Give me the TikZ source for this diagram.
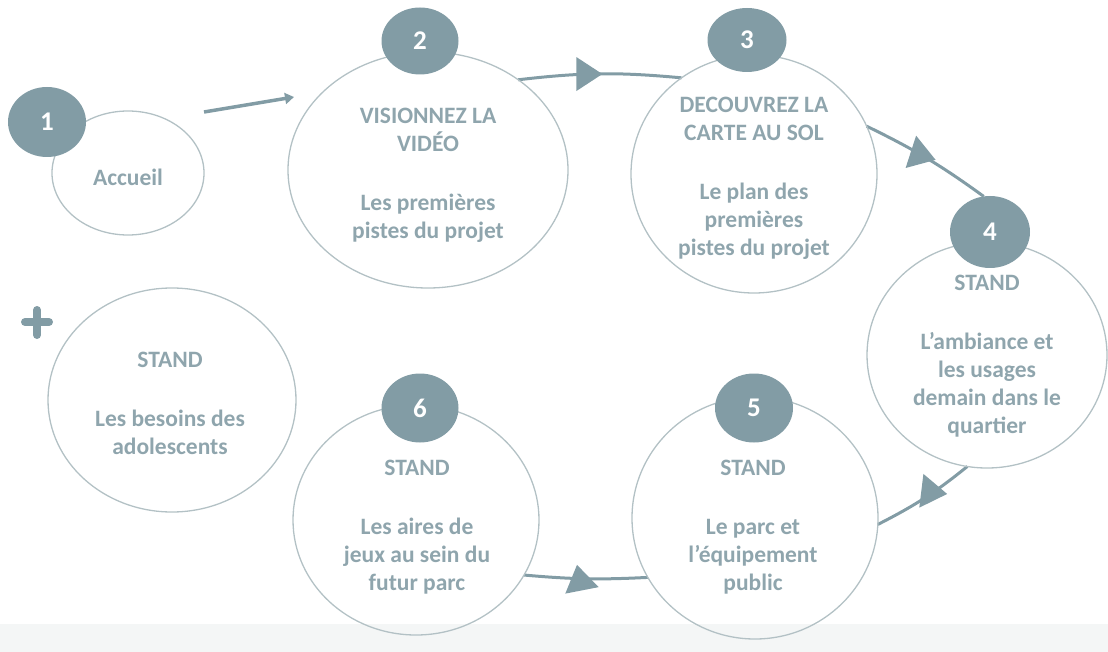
\documentclass[tikz,border=0pt]{standalone}
\usepackage{fontspec}
\setmainfont{Carlito}
\usetikzlibrary{shapes.geometric,arrows.meta,decorations.markings,backgrounds}
\definecolor{cfill}{HTML}{829CA5}
\definecolor{ctext}{HTML}{8FA5AD}
\definecolor{cline}{HTML}{B3C1C5}
\definecolor{cband}{HTML}{F4F6F6}
\tikzset{
  big/.style={draw=cline, line width=1.3pt, ellipse, inner sep=0pt, outer sep=0pt},
  num/.style={fill=cfill, ellipse, inner sep=0pt, outer sep=0pt, text=white,
    font=\bfseries\fontsize{27}{27}\selectfont},
  txt/.style={text=ctext, font=\bfseries\fontsize{23.5}{28}\selectfont, align=center, inner sep=0pt},
  flow/.style={draw=cfill, line width=3pt},
  flowtri/.style 2 args={postaction={decorate, decoration={markings,
    mark=at position #1 with {\pgftransformresetnontranslations
      \fill[cfill, rotate=#2] (14pt,0pt) -- (-12pt,17pt) -- (-12pt,-17pt) -- cycle;}}}}
}
\begin{document}
\begin{tikzpicture}[x=1pt,y=-1pt]
\useasboundingbox (0,0) rectangle (1108,652);
% big circles
\node[big, minimum width=152pt, minimum height=124pt] (c1) at (128,173) {};
\node[big, minimum width=280pt, minimum height=236pt] (c2) at (428,170) {};
\node[big, minimum width=246pt, minimum height=238pt] (c3) at (754,174) {};
\node[big, minimum width=240pt, minimum height=226pt] (c4) at (987,355) {};
\node[big, minimum width=246pt, minimum height=242pt] (c5) at (755,518) {};
\node[big, minimum width=246pt, minimum height=230pt] (c6) at (416,520) {};
\node[big, minimum width=248pt, minimum height=224pt] (c7) at (172,400) {};
% small number circles
\node[num, minimum width=78pt, minimum height=70pt] (n1) at (47,122) {1};
\node[num, minimum width=77pt, minimum height=67pt] (n2) at (420,41) {2};
\node[num, minimum width=79pt, minimum height=64pt] (n3) at (747,40) {3};
\node[num, minimum width=80pt, minimum height=72pt] (n4) at (990,232) {4};
\node[num, minimum width=78pt, minimum height=69pt] (n5) at (754,408) {5};
\node[num, minimum width=77pt, minimum height=69pt] (n6) at (420,408) {6};
% connectors
\coordinate (a1s) at (204,112);
\coordinate (a1e) at (294,97);
\begin{pgfonlayer}{background}
\fill[cband] (0,624) rectangle (1108,652);
\draw[flow, line width=3.5pt, -{Triangle[length=9pt,width=11pt]}] (a1s) -- (a1e);
\draw[flow, flowtri={0.43}{0}] (c2.45) to[bend left=6] (c3.127);
\draw[flow, flowtri={0.46}{-18}] (c3.23) to[bend left=5] (n4.100);
\draw[flow, flowtri={0.6}{-7}] (c5.-3) to[bend right=6] (c4.260);
\draw[flow, flowtri={0.55}{101}] (c5.209) to[bend left=4] (c6.333);
\end{pgfonlayer}
% plus
\draw[cfill, line width=8pt, line cap=round] (25,322) -- (49,322) (37,310) -- (37,335);
% texts
\node[txt] (t1) at (128,177) {Accueil};
\node[txt] (t2) at (428,175) {VISIONNEZ LA\\VIDÉO\\[31pt]Les premières\\pistes du projet};
\node[txt] (t3) at (754,178) {DECOUVREZ LA\\CARTE AU SOL\\[31pt]Le plan des\\premières\\pistes du projet};
\node[txt] (t4) at (987,356) {STAND\\[31pt]L’ambiance et\\les usages\\demain dans le\\quartier};
\node[txt] (t5) at (753,527) {STAND\\[31pt]Le parc et\\l’équipement\\public};
\node[txt] (t6) at (417,527) {STAND\\[31pt]Les aires de\\jeux au sein du\\futur parc};
\node[txt] (t7) at (170,403) {STAND\\[31pt]Les besoins des\\adolescents};
\end{tikzpicture}
\end{document}
